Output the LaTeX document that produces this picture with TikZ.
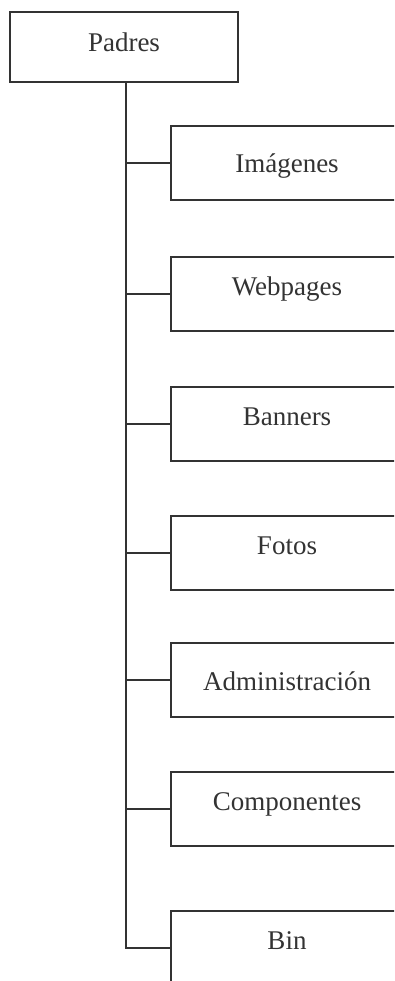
\documentclass[tikz,border=0pt]{standalone}
\usepackage{fontspec}
\setmainfont{Liberation Serif}
\definecolor{ink}{HTML}{333333}
\begin{document}
\begin{tikzpicture}[x=1pt,y=-1pt,
  every node/.style={font=\fontsize{27}{32}\selectfont, text=ink},
  box/.style={draw=ink, line width=1.6pt, rectangle, inner sep=0pt,
    minimum width=232pt, minimum height=74pt, text height=20pt, text depth=18pt},
  cbox/.style={box, text depth=0pt},
  topbox/.style={draw=ink, line width=1.6pt, rectangle, inner sep=0pt,
    minimum width=228pt, minimum height=70pt, text height=20pt, text depth=10pt},
  link/.style={draw=ink, line width=1.6pt}]
\useasboundingbox (0,0) rectangle (394,981);
\clip (0,0) rectangle (394,981);
\fill[white] (0,0) rectangle (394,981);
\node[topbox] (padres) at (124,47) {Padres};
\node[cbox] (img) at (287,163) {Imágenes};
\node[box] (web) at (287,294) {Webpages};
\node[box] (ban) at (287,424) {Banners};
\node[box] (fot) at (287,553) {Fotos};
\node[cbox] (adm) at (287,680) {Administración};
\node[box] (com) at (287,809) {Componentes};
\node[box] (bin) at (287,948) {Bin};
\coordinate (t) at ([xshift=2pt]padres.south);
\draw[link] (t) -- (t |- bin.west) -- (bin.west);
\foreach \n in {img,web,ban,fot,adm,com}
  \draw[link] (t |- \n.west) -- (\n.west);
\end{tikzpicture}
\end{document}
